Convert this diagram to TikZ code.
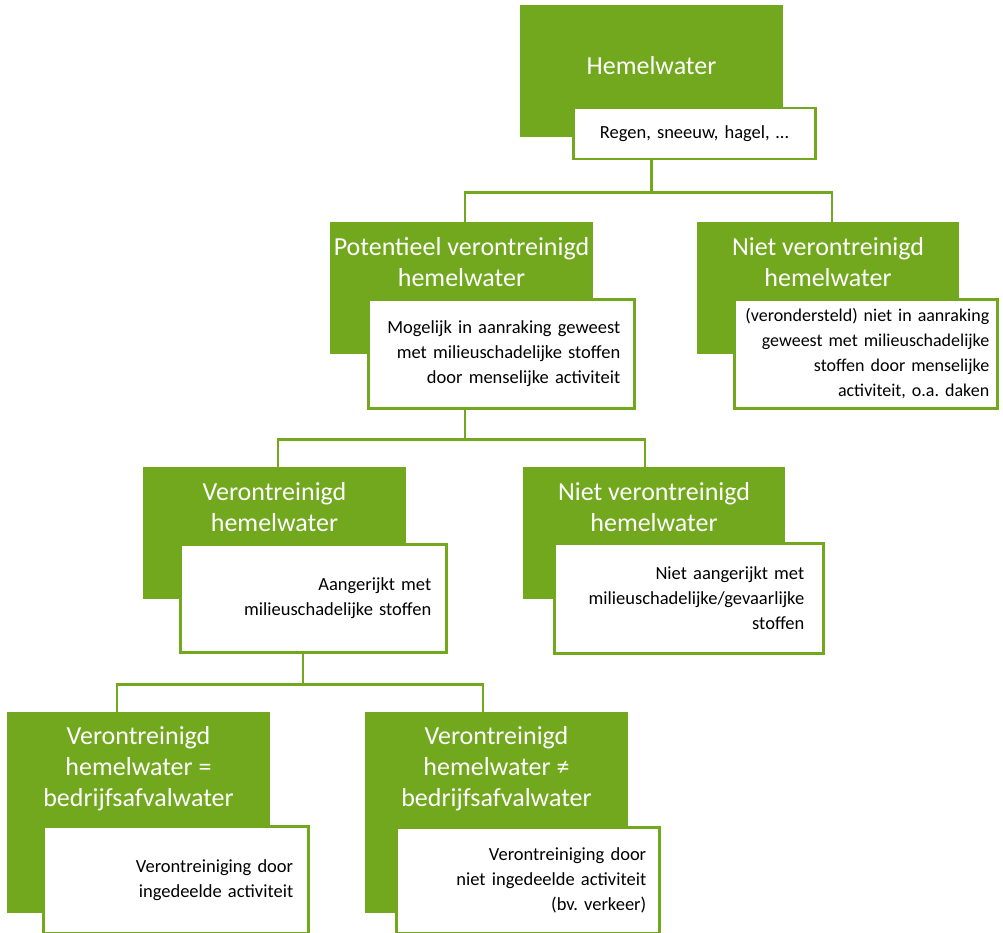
\documentclass[tikz,border=0pt]{standalone}
\usepackage{fontspec}
\setmainfont{Carlito}
\frenchspacing
\definecolor{loofgroen}{RGB}{114,168,30}
\tikzset{
	groenvlak/.style={fill=loofgroen, inner sep=0pt, anchor=north west},
	witvlak/.style={draw=loofgroen, line width=2.5pt, fill=white, anchor=north west, inner ysep=0pt, inner xsep=14pt, align=right, font=\fontsize{18.5}{25}\selectfont},
	kop/.style={text=white, align=center, inner sep=0pt, font=\fontsize{26}{31}\selectfont},
	tak/.style={draw=loofgroen, line width=2.5pt}
}

\begin{document}
\begin{tikzpicture}[x=1pt,y=-1pt]
			\useasboundingbox (0,0) rectangle (1003,933);
			\node[groenvlak, minimum width=263pt, minimum height=132pt] (hemel) at (520,5) {};
			\node[groenvlak, minimum width=263pt, minimum height=132pt] (pot) at (330,222) {};
			\node[groenvlak, minimum width=262pt, minimum height=132pt] (nieta) at (697,222) {};
			\node[groenvlak, minimum width=263pt, minimum height=132pt] (ver) at (143,467) {};
			\node[groenvlak, minimum width=262pt, minimum height=132pt] (nietb) at (523,467) {};
			\node[groenvlak, minimum width=263pt, minimum height=201pt] (bedr) at (7,712) {};
			\node[groenvlak, minimum width=263pt, minimum height=201pt] (nbedr) at (365,712) {};
			\node[kop] (hemelt) at (651.5,66) {Hemelwater};
			\node[kop] (pott) at (461.5,262) {Potentieel verontreinigd\\hemelwater};
			\node[kop] (nietat) at (828,262) {Niet verontreinigd\\hemelwater};
			\node[kop] (vert) at (274.5,507) {Verontreinigd\\hemelwater};
			\node[kop] (nietbt) at (654,507) {Niet verontreinigd\\hemelwater};
			\node[kop] (bedrt) at (138.5,769) {Verontreinigd\\hemelwater =\\bedrijfsafvalwater};
			\node[kop] (nbedrt) at (496.5,769) {Verontreinigd\\hemelwater ≠\\bedrijfsafvalwater};
			\node[witvlak, align=center, text width=214pt, minimum height=51pt] (hemelw) at (572,107) {Regen, sneeuw, hagel, …};
			\node[witvlak, text width=238pt, minimum height=109pt] (potw) at (367,298) {Mogelijk in aanraking geweest\\met milieuschadelijke stoffen\\door menselijke activiteit};
			\node[witvlak, inner xsep=8pt, text width=247pt, minimum height=109pt, font=\fontsize{18}{25}\selectfont] (nietaw) at (733,298) {(verondersteld) niet in aanraking\\geweest met milieuschadelijke\\stoffen door menselijke\\activiteit, o.a. daken};
			\node[witvlak, inner xsep=15pt, text width=236pt, minimum height=108pt] (verw) at (179,543) {Aangerijkt met\\milieuschadelijke stoffen};
			\node[witvlak, inner xsep=19pt, text width=231pt, minimum height=110pt] (nietbw) at (553,542) {Niet aangerijkt met\\milieuschadelijke/gevaarlijke\\stoffen};
			\node[witvlak, inner xsep=15pt, text width=235pt, minimum height=107pt] (bedrw) at (42,825) {Verontreiniging door\\ingedeelde activiteit};
			\node[witvlak, inner xsep=13pt, text width=237pt, minimum height=106pt] (nbedrw) at (395,826) {Verontreiniging door\hspace*{4pt}\\niet ingedeelde activiteit\\(bv. verkeer)};
			\coordinate (a1) at ([xshift=135pt]pot.north west);
			\coordinate (a2) at ([xshift=135pt]nieta.north west);
			\coordinate (b1) at ([xshift=135pt]ver.north west);
			\coordinate (b2) at ([xshift=122pt]nietb.north west);
			\coordinate (c0) at ([xshift=124pt]verw.south west);
			\coordinate (c1) at ([xshift=110pt]bedr.north west);
			\coordinate (c2) at ([xshift=118pt]nbedr.north west);
			\draw[tak] (hemel.south |- hemelw.south) -- ++(0,32) coordinate (j1);
			\draw[tak] (a1) |- (j1) -| (a2);
			\draw[tak] (a1 |- potw.south) -- ++(0,30) coordinate (j2);
			\draw[tak] (b1) |- (j2) -| (b2);
			\draw[tak] (c0) -- ++(0,31) coordinate (j3);
			\draw[tak] (c1) |- (j3) -| (c2);
		\end{tikzpicture}
\end{document}
